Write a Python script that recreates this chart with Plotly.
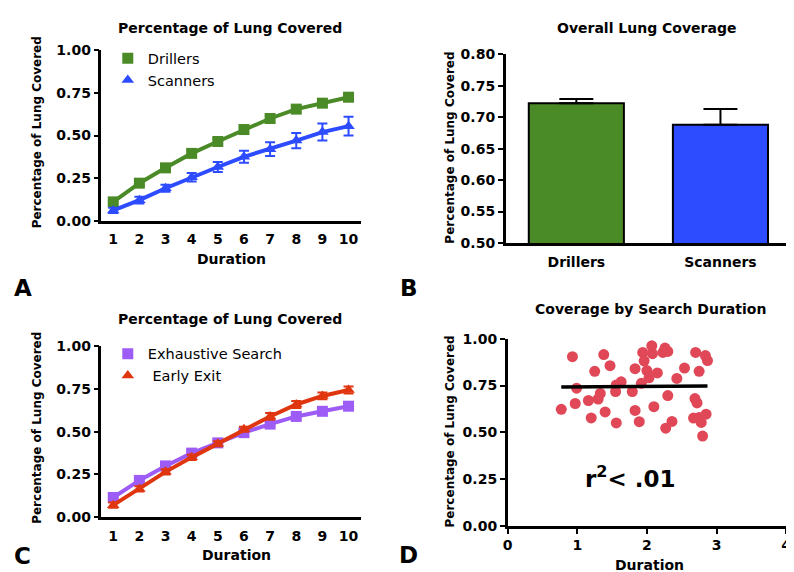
import plotly.graph_objects as go

# ---- data ----
durations = [1, 2, 3, 4, 5, 6, 7, 8, 9, 10]

drillers = [0.11, 0.22, 0.31, 0.395, 0.465, 0.535, 0.60, 0.655, 0.69, 0.725]
drillers_err = [0.015, 0.015, 0.015, 0.015, 0.015, 0.015, 0.015, 0.017, 0.018, 0.02]
scanners = [0.06, 0.12, 0.19, 0.255, 0.315, 0.375, 0.42, 0.47, 0.52, 0.555]
scanners_err = [0.015, 0.02, 0.02, 0.025, 0.03, 0.035, 0.04, 0.045, 0.05, 0.055]

exhaustive = [0.115, 0.215, 0.30, 0.375, 0.435, 0.495, 0.545, 0.59, 0.62, 0.65]
exhaustive_err = [0.015, 0.015, 0.015, 0.015, 0.015, 0.015, 0.015, 0.015, 0.015, 0.015]
early_exit = [0.07, 0.165, 0.265, 0.35, 0.43, 0.515, 0.59, 0.66, 0.71, 0.745]
early_exit_err = [0.015, 0.015, 0.015, 0.015, 0.015, 0.015, 0.02, 0.02, 0.02, 0.02]

groups = ["Drillers", "Scanners"]
overall = [0.722, 0.688]
overall_err = [0.007, 0.025]

scatter_dur = [0.77, 0.93, 0.97, 0.99, 1.16, 1.20, 1.25, 1.30, 1.33, 1.38, 1.40, 1.47,
               1.56, 1.56, 1.55, 1.63, 1.79, 1.83, 1.83, 1.89, 1.92, 1.94, 1.96, 2.00,
               2.03, 2.07, 2.08, 2.10, 2.15, 2.23, 2.26, 2.30, 2.27, 2.30, 2.36, 2.43,
               2.54, 2.67, 2.70, 2.69, 2.72, 2.75, 2.75, 2.78, 2.80, 2.84, 2.85, 2.87]
scatter_cov = [0.623, 0.904, 0.654, 0.736, 0.670, 0.577, 0.826, 0.678, 0.708, 0.915, 0.609, 0.856,
               0.550, 0.753, 0.718, 0.770, 0.718, 0.617, 0.840, 0.557, 0.762, 0.927, 0.882, 0.830,
               0.791, 0.962, 0.920, 0.637, 0.817, 0.927, 0.950, 0.932, 0.522, 0.696, 0.558, 0.788,
               0.843, 0.576, 0.927, 0.680, 0.657, 0.826, 0.579, 0.553, 0.480, 0.910, 0.597, 0.883]
fit_dur = [0.77, 2.87]
fit_cov = [0.742, 0.748]

# ---- style ----
GREEN = "#4b8b27"
BLUE = "#2d4bff"
PURPLE = "#9d5cf5"
RED = "#e0360f"
PINK = "#e04858"
FONT = "DejaVu Sans"
W, H = 794, 572


def px(x):
    return x / W


def py(y):
    return 1 - y / H


def line_trace(y, err, name, color, symbol, xa, ya):
    return go.Scatter(
        x=durations, y=y, mode="lines+markers", name=name, showlegend=False,
        line=dict(color=color, width=4),
        marker=dict(color=color, symbol=symbol, size=11),
        error_y=dict(type="data", array=err, color=color, thickness=2, width=5),
        xaxis=xa, yaxis=ya, cliponaxis=False,
    )


def legend_marker(name, color, symbol, legend):
    return go.Scatter(
        x=[None], y=[None], mode="markers", name=name, legend=legend,
        marker=dict(color=color, symbol=symbol, size=11),
    )


fig = go.Figure()

# A
fig.add_trace(line_trace(drillers, drillers_err, "Drillers", GREEN, "square", "x", "y"))
fig.add_trace(line_trace(scanners, scanners_err, "Scanners", BLUE, "triangle-up", "x", "y"))
fig.add_trace(legend_marker("Drillers", GREEN, "square", "legend"))
fig.add_trace(legend_marker("Scanners", BLUE, "triangle-up", "legend"))

# B
fig.add_trace(go.Bar(
    x=groups, y=overall, marker=dict(color=[GREEN, BLUE], line=dict(color="black", width=2)),
    width=0.66, showlegend=False, xaxis="x2", yaxis="y2",
    error_y=dict(type="data", symmetric=False, array=overall_err, arrayminus=[0, 0],
                 color="black", thickness=2, width=17),
))

# C
fig.add_trace(line_trace(exhaustive, exhaustive_err, "Exhaustive Search", PURPLE, "square", "x3", "y3"))
fig.add_trace(line_trace(early_exit, early_exit_err, "Early Exit", RED, "triangle-up", "x3", "y3"))
fig.add_trace(legend_marker("Exhaustive Search", PURPLE, "square", "legend2"))
fig.add_trace(legend_marker(" Early Exit", RED, "triangle-up", "legend2"))

# D
fig.add_trace(go.Scatter(
    x=scatter_dur, y=scatter_cov, mode="markers", showlegend=False,
    marker=dict(color=PINK, size=11), xaxis="x4", yaxis="y4",
))
fig.add_trace(go.Scatter(
    x=fit_dur, y=fit_cov, mode="lines", showlegend=False,
    line=dict(color="black", width=3.5), xaxis="x4", yaxis="y4",
))

tick_font = dict(family=FONT, size=14, color="black", weight="bold")
axis_common = dict(showline=True, linecolor="black", linewidth=2.5, showgrid=False,
                   zeroline=False, tickfont=tick_font, fixedrange=True)

dur_axis = dict(axis_common, range=[0.55, 10.46], tickvals=durations, ticks="",
                ticklabelstandoff=4)
cov_axis = dict(axis_common, range=[0, 1], tickvals=[0, 0.25, 0.5, 0.75, 1.0],
                tickformat=".2f", ticks="outside", ticklen=5, tickwidth=2, tickcolor="black")

fig.update_layout(
    width=W, height=H,
    margin=dict(l=0, r=0, t=0, b=0),
    paper_bgcolor="white", plot_bgcolor="white",
    font=dict(family=FONT, color="black"),
    xaxis=dict(dur_axis, domain=[px(89.6), px(352)], anchor="y"),
    yaxis=dict(cov_axis, domain=[py(210.5), py(35.4)], anchor="x"),
    xaxis2=dict(axis_common, domain=[px(499), px(788)], anchor="y2", type="category",
                range=[-0.49, 1.49], ticks="", ticklabelstandoff=4),
    yaxis2=dict(axis_common, domain=[py(233.5), py(39.4)], anchor="x2", range=[0.5, 0.8],
                tickvals=[0.5, 0.55, 0.6, 0.65, 0.7, 0.75, 0.8], tickformat=".2f",
                ticks="outside", ticklen=5, tickwidth=2, tickcolor="black"),
    xaxis3=dict(dur_axis, domain=[px(89.6), px(352)], anchor="y3"),
    yaxis3=dict(cov_axis, domain=[py(515.5), py(340)], anchor="x3"),
    xaxis4=dict(axis_common, domain=[px(501), px(783)], anchor="y4", range=[0, 4],
                tickvals=[0, 1, 2, 3, 4], ticks="outside", ticklen=5, tickwidth=2,
                tickcolor="black"),
    yaxis4=dict(cov_axis, domain=[py(524.6), py(332)], anchor="x4"),
    legend=dict(x=px(96), y=py(27), xanchor="left", yanchor="top", bgcolor="rgba(0,0,0,0)",
                font=dict(family=FONT, size=14.5, color="black"), itemclick=False),
    legend2=dict(x=px(96), y=py(331), xanchor="left", yanchor="top", bgcolor="rgba(0,0,0,0)",
                 font=dict(family=FONT, size=14.5, color="black"), itemclick=False),
)

annotations = [
    ("<b>Percentage of Lung Covered</b>", 220, 12, 14, 0),
    ("<b>Overall Lung Coverage</b>", 642, 12, 14, 0),
    ("<b>Percentage of Lung Covered</b>", 220, 312, 14, 0),
    ("<b>Coverage by Search Duration</b>", 646, 301, 14, 0),
    ("<b>Duration</b>", 221, 250, 14, 0),
    ("<b>Duration</b>", 226, 554, 14, 0),
    ("<b>Duration</b>", 645, 565, 14, 0),
    ("<b>Percentage of Lung Covered</b>", 24, 120, 12, -90),
    ("<b>Percentage of Lung Covered</b>", 443, 135, 12, -90),
    ("<b>Percentage of Lung Covered</b>", 24, 424, 12, -90),
    ("<b>Percentage of Lung Covered</b>", 443, 427, 12, -90),
    ("<b>A</b>", 10, 280, 23, 0),
    ("<b>B</b>", 401, 280, 23, 0),
    ("<b>C</b>", 10, 556, 23, 0),
    ("<b>D</b>", 401, 555, 23, 0),
]
for text, x, y, size, angle in annotations:
    fig.add_annotation(text=text, x=px(x), y=py(y), xref="paper", yref="paper",
                       showarrow=False, textangle=angle, xanchor="center", yanchor="middle",
                       font=dict(family=FONT, size=size, color="black"))

fig.add_annotation(text="<b>r<sup>2</sup>< .01</b>", x=1.77, y=0.26, xref="x4", yref="y4",
                   showarrow=False, font=dict(family=FONT, size=23, color="black"))

fig.write_html("out.html")
